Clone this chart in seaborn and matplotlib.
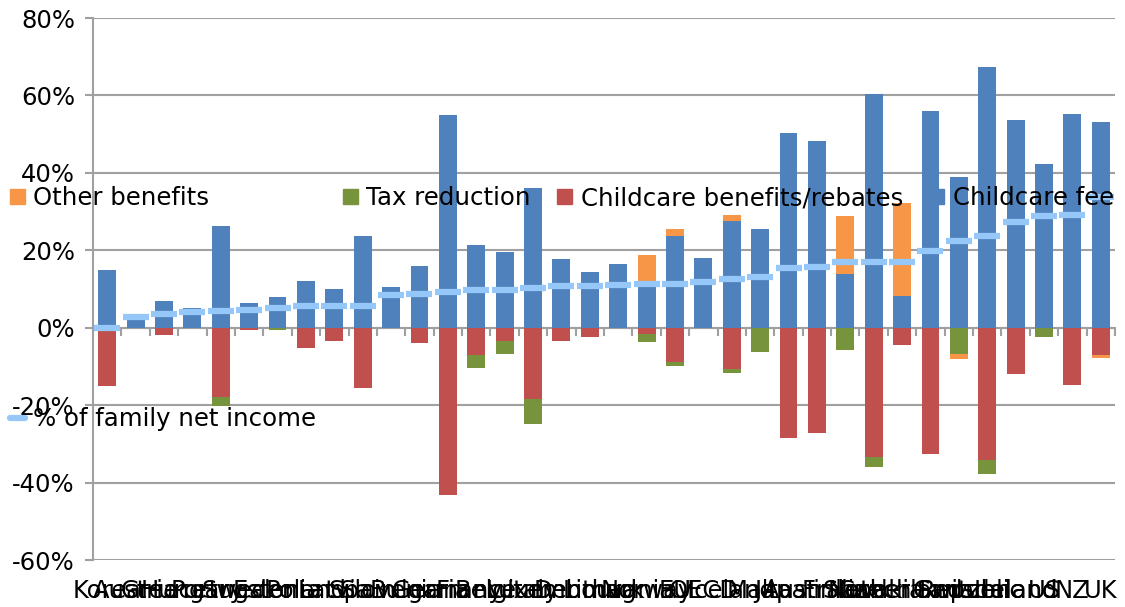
import numpy as np
import pandas as pd
import matplotlib
matplotlib.use("Agg")
import matplotlib.pyplot as plt
import seaborn as sns
from matplotlib.lines import Line2D
from matplotlib.patches import Patch
from matplotlib.ticker import FuncFormatter, MultipleLocator

# Net childcare costs, % of family net income, sorted by total
countries = [
    "Korea", "Austria", "Greece", "Hungary", "Portugal", "Sweden", "Estonia",
    "Poland", "Latvia", "Spain", "Slovenia", "Bulgaria", "Germany", "France",
    "Belgium", "Italy", "Luxembourg", "Denmark", "Lithuania", "Norway", "EU",
    "OECD", "Iceland", "Malta", "Japan", "Australia", "Finland", "Slovakia",
    "Netherlands", "Czech Republic", "Canada", "Switzerland", "Ireland", "US",
    "NZ", "UK",
]
childcare_fee = [
    15.0, 2.5, 7.0, 5.1, 26.3, 6.5, 8.0, 12.1, 10.1, 23.7, 10.6, 16.0,
    55.0, 21.4, 19.6, 36.1, 17.8, 14.5, 16.5, 12.0, 23.8, 18.1, 27.6, 25.5,
    50.3, 48.3, 14.0, 60.4, 8.3, 56.0, 39.0, 67.4, 53.7, 42.3, 55.2, 53.2,
]
childcare_benefits = [
    -15.0, 0.0, -1.8, 0.0, -18.0, -0.7, 0.0, -5.3, -3.5, -15.7, 0.0, -4.0,
    -43.1, -7.0, -3.4, -18.3, -3.5, -2.5, 0.0, -1.5, -8.8, 0.0, -10.6, 0.0,
    -28.4, -27.1, 0.0, -33.5, -4.4, -32.5, 0.0, -34.1, -12.0, 0.0, -14.9, -7.1,
]
tax_reduction = [
    0.0, 0.0, 0.0, 0.0, -2.3, 0.0, -0.7, 0.0, 0.0, 0.0, 0.0, 0.0,
    0.0, -3.3, -3.3, -6.5, 0.0, 0.0, 0.0, -2.3, -1.2, 0.0, -1.2, -6.4,
    0.0, 0.0, -5.8, -2.6, 0.0, 0.0, -6.7, -3.8, 0.0, -2.5, 0.0, 0.0,
]
other_benefits = [
    0.0, 0.0, 0.0, 0.0, 0.0, 0.0, 0.0, 0.0, 0.0, 0.0, 0.0, 0.0,
    0.0, 0.0, 0.0, 0.0, 0.0, 0.0, 0.0, 6.8, 1.7, 0.0, 1.6, 0.0,
    0.0, 0.0, 14.9, 0.0, 24.0, 0.0, -1.3, 0.0, 0.0, 0.0, 0.0, -0.8,
]
share_of_income = [
    0.0, 2.8, 3.6, 4.0, 4.4, 4.5, 5.1, 5.5, 5.5, 5.7, 8.5, 8.7,
    9.1, 9.7, 9.7, 10.3, 10.7, 10.7, 11.1, 11.3, 11.3, 11.7, 12.6, 13.2,
    15.3, 15.7, 16.9, 16.9, 16.9, 19.9, 22.3, 23.7, 27.4, 28.8, 29.1, 33.8,
]

BLUE = "#4F81BD"
RED = "#C0504D"
GREEN = "#77933C"
ORANGE = "#F79646"
LIGHT = "#95C8F8"
GRID = "#A0A0A0"

sns.set_theme(style="white")
plt.rcParams["font.family"] = ["DejaVu Sans"]
plt.rcParams["text.color"] = "black"
plt.rcParams["xtick.color"] = "black"
plt.rcParams["ytick.color"] = "black"

# Positive parts stack upward (fee, then other benefits); negative parts stack
# downward (benefits, tax reduction, then other benefits).
fee = np.array(childcare_fee)
ben = np.array(childcare_benefits)
tax = np.array(tax_reduction)
oth = np.array(other_benefits)
df = pd.DataFrame({
    "country": countries,
    "fee": fee,
    "pos_total": fee + np.clip(oth, 0, None),
    "ben": ben,
    "ben_tax": ben + tax,
    "neg_total": ben + tax + np.clip(oth, None, 0),
    "share": share_of_income,
})

fig = plt.figure(figsize=(11.25, 6.07), dpi=100)
ax = fig.add_axes([93 / 1125, 1 - 560 / 607, (1115 - 93) / 1125, (560 - 18) / 607])

bar_kw = dict(data=df, x="country", width=0.63, saturation=1, errorbar=None,
              linewidth=0, ax=ax, zorder=2)
sns.barplot(y="pos_total", color=ORANGE, **bar_kw)
sns.barplot(y="fee", color=BLUE, **bar_kw)
sns.barplot(y="neg_total", color=ORANGE, **bar_kw)
sns.barplot(y="ben_tax", color=GREEN, **bar_kw)
sns.barplot(y="ben", color=RED, **bar_kw)

sns.lineplot(data=df, x="country", y="share", sort=False, errorbar=None,
             linestyle="none", marker="_", markersize=19, markeredgewidth=4.5,
             color=LIGHT, markeredgecolor=LIGHT, ax=ax, zorder=4)

ymin, ymax = -60, 80
ax.set_ylim(ymin, ymax)
ax.set_xlim(-0.5, len(countries) - 0.5)
ax.yaxis.set_major_locator(MultipleLocator(20))
ax.yaxis.set_major_formatter(FuncFormatter(lambda v, _: f"{int(round(v))}%"))
ax.yaxis.grid(True, color=GRID, linewidth=1.5)
ax.set_axisbelow(True)
ax.set_xlabel("")
ax.set_ylabel("")
for side in ("top", "right", "bottom"):
    ax.spines[side].set_visible(False)
ax.spines["left"].set_color(GRID)
ax.spines["left"].set_linewidth(1.5)
ax.tick_params(axis="y", left=True, length=6, width=1.5, color=GRID,
               labelsize=17.5, pad=7, labelcolor="black")
ax.tick_params(axis="x", bottom=False, length=0, labelsize=17.5, pad=14,
               labelcolor="black")

# Category axis line running through 0% with tick marks between categories
zero_pos = (0 - ymin) / (ymax - ymin)
sec = ax.secondary_xaxis(zero_pos)
sec.set_xticks(np.arange(len(countries) + 1) - 0.5)
sec.tick_params(axis="x", direction="out", length=6, width=1.5, color=GRID,
                labelbottom=False, labeltop=False)
for s in sec.spines.values():
    s.set_color(GRID)
    s.set_linewidth(1.5)
sec.set_zorder(1)

handles = [
    Patch(color=ORANGE, label="Other benefits"),
    Line2D([], [], color=LIGHT, lw=4.5, label="% of family net income"),
    Patch(color=GREEN, label="Tax reduction"),
    Patch(color=RED, label="Childcare benefits/rebates"),
    Patch(color=BLUE, label="Childcare fee"),
]
fig.legend(handles=handles, ncol=4, loc="upper left",
           bbox_to_anchor=(10 / 1125, 1 - 186 / 607), frameon=False,
           fontsize=17.6, borderpad=0, borderaxespad=0, handlelength=0.6,
           handleheight=0.6, handletextpad=0.36, columnspacing=1.08,
           labelspacing=8.05)

fig.savefig("out.png", dpi=100)
